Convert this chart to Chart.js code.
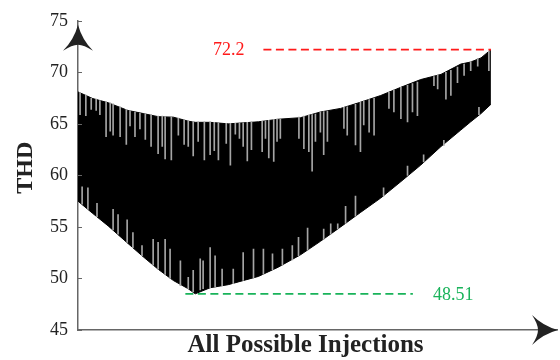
<!DOCTYPE html>
<html>
<head>
<meta charset="utf-8">
<script src="https://cdn.jsdelivr.net/npm/chart.js@4.4.1/dist/chart.umd.min.js"></script>
<style>
  html, body { margin: 0; padding: 0; background: #ffffff; }
  #wrap { width: 560px; height: 360px; }
</style>
</head>
<body>
<div id="wrap"><canvas id="c" width="560" height="360"></canvas></div>
<script>
// ---- Data ----
// injection index positions (0 = first injection, 1000 = last)
const injectionIdx = [0, 36, 73, 121, 158, 194, 231, 267, 284, 320, 364, 437, 485, 539, 587, 636, 684, 733, 782, 830, 879, 927, 951, 976, 1000];
// upper envelope of THD over injections
const thdUpper = [68.1, 67.45, 67.05, 66.3, 66.0, 65.7, 65.65, 65.26, 65.15, 65.15, 65.0, 65.2, 65.45, 65.6, 66.15, 66.5, 67.1, 67.75, 68.55, 69.3, 69.8, 70.8, 71.0, 71.4, 72.2];
// lower envelope of THD over injections
const thdLower = [57.5, 56.3, 55.1, 53.4, 52.1, 50.9, 49.8, 49.0, 48.51, 49.1, 49.4, 50.2, 51.1, 52.3, 53.6, 55.0, 56.4, 57.8, 59.4, 61.0, 62.8, 64.4, 65.2, 66.0, 66.9];

// light streaks inside the band (injection index, THD from, THD to)
const streakIdx  = [5, 19, 32, 44, 53, 68, 78, 85, 102, 117, 126, 138, 150, 163, 177, 194, 204, 211, 226, 243, 257, 267, 279, 291, 306, 320, 330, 340, 359, 369, 381, 391, 400, 410, 420,
                    446, 454, 462, 474, 482, 490, 535, 547, 559, 567, 575, 587, 595, 604, 644, 652, 672, 684, 692, 705, 717, 753, 765, 782, 798, 810, 822, 862, 871, 891, 903, 919, 935, 951, 968, 995,
                    10, 24, 46, 85, 97, 119, 133, 155, 182, 194, 211, 223, 248, 267, 279, 296, 303, 320, 332, 349, 376, 400, 425, 449, 471, 495, 519, 534, 556, 595, 612, 629, 648, 672, 740, 798, 837, 886, 971];
const streakFrom = [68.05, 67.8, 67.5, 67.4, 67.25, 67.15, 67.05, 66.95, 66.65, 66.4, 66.3, 66.15, 66.05, 66.0, 65.9, 65.75, 65.75, 65.7, 65.7, 65.55, 65.4, 65.3, 65.25, 65.2, 65.2, 65.2, 65.15, 65.1, 65.05, 65.05, 65.05, 65.1, 65.1, 65.15, 65.2,
                    65.25, 65.3, 65.35, 65.45, 65.47, 65.5, 65.65, 65.75, 65.85, 65.9, 65.95, 66.15, 66.2, 66.25, 66.6, 66.65, 66.9, 67.1, 67.2, 67.35, 67.5, 68.05, 68.3, 68.55, 68.75, 68.9, 69.05, 69.6, 69.7, 70.0, 70.2, 70.5, 70.8, 71.05, 71.35, 72.05,
                    57.2, 56.7, 56.0, 54.7, 54.3, 53.5, 53.0, 52.2, 51.3, 50.9, 50.4, 50.0, 49.3, 49.0, 48.7, 48.9, 49.0, 49.1, 49.2, 49.3, 49.5, 49.8, 50.05, 50.4, 50.85, 51.3, 51.8, 52.2, 52.75, 53.8, 54.3, 54.8, 55.35, 56.05, 58.0, 60.0, 61.3, 62.9, 65.9];
const streakTo   = [65.9, 65.8, 66.4, 66.3, 65.9, 63.75, 64.3, 63.9, 63.75, 63.0, 64.8, 63.75, 64.5, 63.5, 62.8, 62.1, 62.8, 61.6, 61.5, 63.9, 63.0, 62.8, 61.9, 63.3, 61.5, 62.0, 62.4, 61.5, 63.1, 61.0, 64.0, 63.6, 62.8, 61.4, 62.5,
                    62.3, 63.6, 61.7, 61.35, 63.3, 63.6, 63.6, 62.6, 62.3, 60.4, 63.3, 64.2, 62.0, 63.3, 64.55, 63.9, 62.95, 62.3, 64.9, 64.2, 63.9, 66.5, 66.15, 65.5, 65.2, 66.15, 65.8, 68.7, 68.4, 67.4, 67.75, 69.0, 69.7, 70.15, 70.6, 70.15,
                    58.9, 58.8, 57.3, 56.7, 56.2, 55.7, 54.45, 53.2, 53.8, 53.5, 53.8, 52.85, 51.7, 50.1, 50.8, 51.9, 51.7, 53.0, 52.2, 50.9, 50.9, 52.5, 52.85, 52.85, 52.4, 52.85, 53.2, 54.0, 54.9, 54.8, 55.3, 55.3, 57.0, 58.0, 58.8, 60.9, 62.0, 63.4, 66.6];

const yTickValues = [45, 50, 55, 60, 65, 70, 75];
const maxTHD = 72.2;
const minTHD = 48.51;
const maxLineSpan = [449, 1000];
const minLineSpan = [260, 811];
const xAxisTitle = 'All Possible Injections';
const yAxisTitle = 'THD';

const upperPts = injectionIdx.map((x, i) => ({ x: x, y: thdUpper[i] }));
const lowerPts = injectionIdx.map((x, i) => ({ x: x, y: thdLower[i] }));
const streakPts = streakIdx.map((x, i) => ({ x: x, y: [streakFrom[i], streakTo[i]] }));

const SERIF = '"Liberation Serif", "DejaVu Serif", serif';

function drawArrow(ctx, tipX, tipY, dir) {
  const L = 26, W = 15, N = 20;
  ctx.save();
  ctx.fillStyle = '#222';
  ctx.translate(tipX, tipY);
  if (dir === 'right') ctx.rotate(Math.PI / 2);
  ctx.beginPath();
  ctx.moveTo(0, 0);
  ctx.quadraticCurveTo(-4, 15, -W, L);
  ctx.quadraticCurveTo(-6, N, 0, N);
  ctx.quadraticCurveTo(6, N, W, L);
  ctx.quadraticCurveTo(4, 15, 0, 0);
  ctx.closePath();
  ctx.fill();
  ctx.restore();
}

const decorations = {
  id: 'decorations',
  afterDraw(chart) {
    const ctx = chart.ctx;
    const xs = chart.scales.x, ys = chart.scales.y;
    const area = chart.chartArea;
    ctx.save();
    // inside tick marks on y axis
    ctx.strokeStyle = '#666';
    ctx.lineWidth = 1;
    yTickValues.forEach(v => {
      const py = Math.round(ys.getPixelForValue(v)) + 0.5;
      ctx.beginPath();
      ctx.moveTo(area.left, py);
      ctx.lineTo(area.left + 4, py);
      ctx.stroke();
    });
    // reference lines
    ctx.lineWidth = 1.8;
    ctx.setLineDash([8, 4.5]);
    ctx.strokeStyle = '#ff1a1a';
    const py = ys.getPixelForValue(maxTHD);
    ctx.beginPath();
    ctx.moveTo(xs.getPixelForValue(maxLineSpan[0]), py);
    ctx.lineTo(xs.getPixelForValue(maxLineSpan[1]), py);
    ctx.stroke();
    ctx.strokeStyle = '#19b35a';
    const py2 = ys.getPixelForValue(minTHD);
    ctx.beginPath();
    ctx.moveTo(xs.getPixelForValue(minLineSpan[0]), py2);
    ctx.lineTo(xs.getPixelForValue(minLineSpan[1]), py2);
    ctx.stroke();
    ctx.setLineDash([]);
    // labels
    ctx.font = '18px ' + SERIF;
    ctx.textBaseline = 'middle';
    ctx.fillStyle = '#ff1a1a';
    ctx.textAlign = 'right';
    ctx.fillText(String(maxTHD), xs.getPixelForValue(maxLineSpan[0]) - 19, py + 1);
    ctx.fillStyle = '#19b35a';
    ctx.textAlign = 'left';
    ctx.fillText(String(minTHD), xs.getPixelForValue(minLineSpan[1]) + 20, py2 + 1);
    // axis titles
    ctx.fillStyle = '#222';
    ctx.textAlign = 'center';
    ctx.textBaseline = 'middle';
    ctx.font = 'bold 25px ' + SERIF;
    ctx.fillText(xAxisTitle, area.left + (area.right - area.left) * 0.475, area.bottom + 16);
    ctx.font = 'bold 24px ' + SERIF;
    ctx.translate(25, area.top + (area.bottom - area.top) * 0.475);
    ctx.rotate(-Math.PI / 2);
    ctx.fillText(yAxisTitle, 0, 1);
    ctx.restore();
    // arrows
    drawArrow(ctx, area.left, area.top + 4, 'up');
    drawArrow(ctx, area.right + 1, area.bottom, 'right');
  }
};

new Chart(document.getElementById('c'), {
  type: 'line',
  data: {
    datasets: [
      {
        type: 'bar',
        label: 'streaks',
        data: streakPts,
        backgroundColor: 'rgba(165,165,165,1)',
        borderWidth: 0,
        barThickness: 1,
        order: 0
      },
      {
        label: 'upper',
        data: upperPts,
        borderColor: '#000',
        backgroundColor: '#000',
        borderWidth: 1,
        pointRadius: 0,
        tension: 0,
        fill: '+1',
        order: 1
      },
      {
        label: 'lower',
        data: lowerPts,
        borderColor: '#000',
        backgroundColor: '#000',
        borderWidth: 1,
        pointRadius: 0,
        tension: 0,
        fill: false,
        order: 2
      }
    ]
  },
  options: {
    responsive: false,
    animation: false,
    events: [],
    layout: { padding: { left: 40, right: 3, top: 14, bottom: 30 } },
    plugins: {
      legend: { display: false },
      tooltip: { enabled: false }
    },
    scales: {
      x: {
        type: 'linear',
        min: 0,
        max: 1160,
        offset: false,
        grid: { display: false, drawTicks: false, offset: false },
        border: { display: true, color: '#666', width: 1.5 },
        ticks: { display: false }
      },
      y: {
        type: 'linear',
        min: 45,
        max: 75,
        grid: { display: false, drawTicks: false },
        border: { display: true, color: '#666', width: 1.5 },
        afterBuildTicks(scale) { scale.ticks = yTickValues.map(v => ({ value: v })); },
        ticks: {
          color: '#222',
          padding: 10,
          font: { family: SERIF, size: 18 }
        }
      }
    }
  },
  plugins: [decorations]
});
</script>
</body>
</html>
